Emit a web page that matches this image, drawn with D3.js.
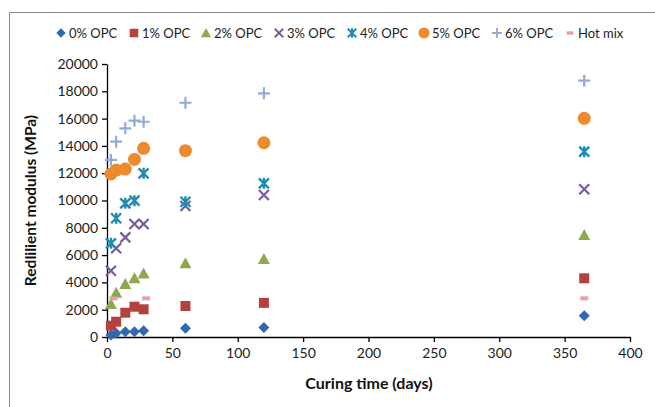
<!DOCTYPE html>
<html>
<head>
<meta charset="utf-8">
<script src="https://cdn.jsdelivr.net/npm/d3@7"></script>
<style>
  body { margin: 0; background: #fff; }
  text { font-family: Lato, "Open Sans", sans-serif; }
</style>
</head>
<body>
<div id="wrapper"></div>
<script>
// curing times (days) and resilient modulus (MPa) per OPC content
const days = [3, 7, 14, 21, 28, 60, 120, 365]
const opc0 = [150, 270, 390, 390, 460, 640, 700, 1560]
const opc1 = [830, 1120, 1780, 2220, 2030, 2270, 2500, 4300]
const opc2 = [2420, 3250, 3880, 4300, 4660, 5400, 5710, 7470]
const opc3 = [4860, 6500, 7300, 8280, 8280, 9600, 10400, 10820]
const opc4 = [6860, 8700, 9790, 9990, 11990, 9910, 11260, 13580]
const opc5 = [11940, 12230, 12300, 13010, 13820, 13650, 14230, 16020]
const opc6 = [12970, 14310, 15290, 15850, 15770, 17160, 17850, 18780]
const hotDays = [5, 30, 365]
const hotMix = [2830, 2830, 2830]

const seriesNames = ["0% OPC", "1% OPC", "2% OPC", "3% OPC", "4% OPC", "5% OPC", "6% OPC", "Hot mix"]
const xTicks = [0, 50, 100, 150, 200, 250, 300, 350, 400]
const yTicks = d3.range(0, 20001, 2000)

const series = [
  { name: seriesNames[0], x: days, y: opc0, shape: "diamond", color: "#3268B1" },
  { name: seriesNames[1], x: days, y: opc1, shape: "square", color: "#B3423F" },
  { name: seriesNames[2], x: days, y: opc2, shape: "triangle", color: "#8CA94F" },
  { name: seriesNames[3], x: days, y: opc3, shape: "x", color: "#7A5C9C" },
  { name: seriesNames[4], x: days, y: opc4, shape: "star", color: "#1D8DB3" },
  { name: seriesNames[5], x: days, y: opc5, shape: "circle", color: "#EE8A2E" },
  { name: seriesNames[6], x: days, y: opc6, shape: "plus", color: "#93AAD8" },
  { name: seriesNames[7], x: hotDays, y: hotMix, shape: "dash", color: "#E6A0A0" },
]

const dimensions = {
  width: 655,
  height: 407,
  margin: { top: 64, right: 25, bottom: 70, left: 107 },
}
dimensions.boundedWidth = dimensions.width - dimensions.margin.left - dimensions.margin.right
dimensions.boundedHeight = dimensions.height - dimensions.margin.top - dimensions.margin.bottom

const svg = d3.select("#wrapper")
  .append("svg")
    .attr("width", dimensions.width)
    .attr("height", dimensions.height)

// chart frame (runs off the right and bottom edges)
svg.append("path")
  .attr("d", "M9.5,420 V12.5 H670")
  .attr("fill", "none")
  .attr("stroke", "#8a8a8a")
  .attr("stroke-width", 1)

const bounds = svg.append("g")
  .attr("transform", `translate(${dimensions.margin.left},${dimensions.margin.top})`)

const xScale = d3.scaleLinear()
  .domain([0, 400])
  .range([0, dimensions.boundedWidth])

const yScale = d3.scaleLinear()
  .domain([0, 20000])
  .range([dimensions.boundedHeight, 0])

// marker drawing
function drawMarker(g, shape, color) {
  if (shape === "diamond") {
    g.append("path").attr("d", "M0,-5.5 L5.5,0 L0,5.5 L-5.5,0Z").attr("fill", color)
  } else if (shape === "square") {
    g.append("rect").attr("x", -5).attr("y", -5).attr("width", 10).attr("height", 10).attr("fill", color)
  } else if (shape === "triangle") {
    g.append("path").attr("d", "M0,-6 L6,5 L-6,5Z").attr("fill", color)
  } else if (shape === "circle") {
    g.append("circle").attr("r", 6.5).attr("fill", color)
  } else if (shape === "x") {
    g.append("path").attr("d", "M-5,-5 L5,5 M-5,5 L5,-5")
      .attr("stroke", color).attr("stroke-width", 2.2).attr("fill", "none")
  } else if (shape === "star") {
    g.append("path").attr("d", "M-5,-5 L5,5 M-5,5 L5,-5 M0,-5.5 V5.5")
      .attr("stroke", color).attr("stroke-width", 2.4).attr("fill", "none")
  } else if (shape === "plus") {
    g.append("path").attr("d", "M-6,0 H6 M0,-6 V6")
      .attr("stroke", color).attr("stroke-width", 2.2).attr("fill", "none")
  } else if (shape === "dash") {
    g.append("rect").attr("x", -4).attr("y", -2).attr("width", 8).attr("height", 4).attr("fill", color)
  }
}

// axes
const xAxisGenerator = d3.axisBottom(xScale)
  .tickValues(xTicks)
  .tickSizeInner(5)
  .tickSizeOuter(0)
  .tickPadding(6)

const xAxis = bounds.append("g")
  .attr("transform", `translate(0,${dimensions.boundedHeight})`)
  .call(xAxisGenerator)

const yAxisGenerator = d3.axisLeft(yScale)
  .tickValues(yTicks)
  .tickFormat(d3.format("d"))
  .tickSizeInner(5)
  .tickSizeOuter(0)
  .tickPadding(4)

const yAxis = bounds.append("g")
  .call(yAxisGenerator)

;[xAxis, yAxis].forEach(axis => {
  axis.select(".domain").attr("stroke", "#000").attr("stroke-width", 1.3)
  axis.selectAll(".tick line").attr("stroke", "#000").attr("stroke-width", 1.3)
  axis.selectAll(".tick text")
    .attr("fill", "#222")
    .style("font-size", "14px")
    .style("font-family", "Lato, sans-serif")
})

// data points
series.forEach(s => {
  s.x.forEach((d, i) => {
    const g = bounds.append("g")
      .attr("transform", `translate(${xScale(d)},${yScale(s.y[i])})`)
    drawMarker(g, s.shape, s.color)
  })
})

// axis titles
svg.append("text")
  .attr("x", 369)
  .attr("y", 389)
  .attr("text-anchor", "middle")
  .style("font-size", "16px")
  .style("font-weight", "bold")
  .attr("fill", "#111")
  .text("Curing time (days)")

svg.append("text")
  .attr("transform", `translate(36,${dimensions.margin.top + dimensions.boundedHeight / 2}) rotate(-90)`)
  .attr("text-anchor", "middle")
  .style("font-size", "15.5px")
  .style("font-weight", "bold")
  .attr("fill", "#111")
  .text("Redlilient modulus (MPa)")

// legend
const legendX = [61, 134, 206, 279, 352, 424, 497, 570]
const legend = svg.append("g")
series.forEach((s, i) => {
  const item = legend.append("g")
    .attr("transform", `translate(${legendX[i]},33)`)
  const m = item.append("g").attr("transform", "scale(0.85)")
  drawMarker(m, s.shape, s.color)
  item.append("text")
    .attr("x", 8)
    .attr("y", 0)
    .attr("dy", "0.35em")
    .style("font-size", "13px")
    .attr("fill", "#222")
    .text(s.name)
})
</script>
</body>
</html>
